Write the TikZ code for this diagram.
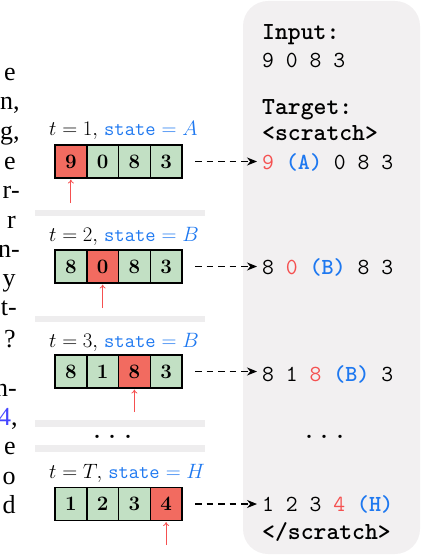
\documentclass[tikz,border=0pt]{standalone}
\usepackage{fontspec}
\newfontfamily\fragfont{Liberation Serif}
\usetikzlibrary{arrows.meta,calc}
\definecolor{cellred}{RGB}{242,107,96}
\definecolor{cellgreen}{RGB}{194,224,196}
\definecolor{txtred}{RGB}{245,80,80}
\definecolor{txtblue}{RGB}{30,120,240}
\definecolor{panelgray}{RGB}{242,240,241}
\definecolor{sepgray}{RGB}{238,237,238}
\definecolor{linkblue}{RGB}{70,70,255}
\begin{document}
\begin{tikzpicture}[x=1pt,y=-1pt,
 cell/.style={draw=black, line width=1.5pt, minimum width=31.75pt, minimum height=33pt, inner sep=0pt, outer sep=0pt, font=\fontsize{20.5}{22}\selectfont\bfseries},
 redcell/.style={cell, fill=cellred},
 greencell/.style={cell, fill=cellgreen},
 steplabel/.style={anchor=base west, inner sep=0pt, font=\fontsize{20}{22}\selectfont},
 outtext/.style={anchor=base west, inner sep=0pt, font=\fontsize{23}{25}\selectfont\ttfamily},
 headtext/.style={anchor=base west, inner sep=0pt, font=\fontsize{24.5}{26}\selectfont\ttfamily\bfseries},
 dotstext/.style={inner sep=0pt, font=\fontsize{40}{42}\selectfont},
 ptr/.style={draw=txtred, line width=0.8pt, -{To[length=4pt,width=6pt]}, shorten >=1.5pt},
 dasharrow/.style={draw=black, line width=1.1pt, dash pattern=on 6.5pt off 5pt, -{Stealth[length=10pt,width=8pt]}, shorten <=13pt, shorten >=5pt},
 frag/.style={anchor=base west, inner sep=0pt, font=\fontsize{26}{28}\selectfont\fragfont},
]
\useasboundingbox (0,0) rectangle (422,556);
\clip (0,0) rectangle (422,556);

% right panel
\fill[panelgray, rounded corners=25pt] (243,1) rectangle (420,554);

% separators
\fill[sepgray] (35,210) rectangle (205,216);
\fill[sepgray] (35,316) rectangle (205,322);
\fill[sepgray] (35,420) rectangle (205,427);
\fill[sepgray] (35,445) rectangle (205,452);

% left text fragments
\node[frag] (f1) at (15,81) {\llap{e}};
\node[frag] (f2) at (13,110) {\llap{n},};
\node[frag] (f3) at (13,140) {\llap{g},};
\node[frag] (f4) at (15,169) {\llap{e}};
\node[frag] (f5) at (11,198) {\llap{r}-};
\node[frag] (f6) at (15,228) {\llap{r}};
\node[frag] (f7) at (11,257) {\llap{n}-};
\node[frag] (f8) at (15,286) {\llap{y}};
\node[frag] (f9) at (8,315) {\llap{t}-};
\node[frag] (f10) at (15,347) {\llap{?}};
\node[frag] (f11) at (8,396) {\llap{n}-};
\node[frag] (f12) at (11,425) {\llap{\textcolor{linkblue}{4}},};
\node[frag] (f13) at (15,454) {\llap{e}};
\node[frag] (f14) at (15,484) {\llap{o}};
\node[frag] (f15) at (15,513) {\llap{d}};

% step labels
\node[steplabel] (lab1) at (49,136) {$t=1,$ \textcolor{txtblue}{\texttt{state} $=A$}};
\node[steplabel] (lab2) at (49,241) {$t=2,$ \textcolor{txtblue}{\texttt{state} $=B$}};
\node[steplabel] (lab3) at (49,347) {$t=3,$ \textcolor{txtblue}{\texttt{state} $=B$}};
\node[steplabel] (lab4) at (49,478) {$t=T,$ \textcolor{txtblue}{\texttt{state} $=H$}};

% row 1
\node[redcell]   (r1c1) at (70.875,161.5) {9};
\node[greencell] (r1c2) at (102.625,161.5) {0};
\node[greencell] (r1c3) at (134.375,161.5) {8};
\node[greencell] (r1c4) at (166.125,161.5) {3};
% row 2
\node[greencell] (r2c1) at (70.875,266.5) {8};
\node[redcell]   (r2c2) at (102.625,266.5) {0};
\node[greencell] (r2c3) at (134.375,266.5) {8};
\node[greencell] (r2c4) at (166.125,266.5) {3};
% row 3
\node[greencell] (r3c1) at (70.875,371.5) {8};
\node[greencell] (r3c2) at (102.625,371.5) {1};
\node[redcell]   (r3c3) at (134.375,371.5) {8};
\node[greencell] (r3c4) at (166.125,371.5) {3};
% row 4
\node[greencell] (r4c1) at (70.875,504) {1};
\node[greencell] (r4c2) at (102.625,504) {2};
\node[greencell] (r4c3) at (134.375,504) {3};
\node[redcell]   (r4c4) at (166.125,504) {4};

\node[dotstext] (dotsL) at (113,437) {.\kern5.5pt.\kern5.5pt.};

% pointers
\coordinate (q1) at (70.875,203);
\coordinate (q2) at (102.625,308);
\coordinate (q3) at (134.375,412);
\coordinate (q4) at (166.125,545);
\draw[ptr] (q1) -- (r1c1.south);
\draw[ptr] (q2) -- (r2c2.south);
\draw[ptr] (q3) -- (r3c3.south);
\draw[ptr] (q4) -- (r4c4.south);

% panel text
\node[headtext] (inlab) at (262,40) {Input:};
\node[outtext] (inval) at (262,68) {9 0 8 3};
\node[headtext] (tglab) at (262,115) {Target:};
\node[headtext] (scopen) at (262,141) {<scratch>};
\node[outtext] (out1) at (262,169) {\textcolor{txtred}{9} \textcolor{txtblue}{\bfseries(A)} 0 8 3};
\node[outtext] (out2) at (262,274) {8 \textcolor{txtred}{0} \textcolor{txtblue}{\bfseries(B)} 8 3};
\node[outtext] (out3) at (262,381) {8 1 \textcolor{txtred}{8} \textcolor{txtblue}{\bfseries(B)} 3};
\node[dotstext] (dotsR) at (325,437) {.\kern5.5pt.\kern5.5pt.};
\node[outtext] (out4) at (262,511) {1 2 3 \textcolor{txtred}{4} \textcolor{txtblue}{\bfseries(H)}};
\node[headtext] (scclose) at (262,539) {</scratch>};

% dashed connectors
\draw[dasharrow] (r1c4.east) -- (r1c4.east -| out1.west);
\draw[dasharrow] (r2c4.east) -- (r2c4.east -| out2.west);
\draw[dasharrow] (r3c4.east) -- (r3c4.east -| out3.west);
\draw[dasharrow] (r4c4.east) -- (r4c4.east -| out4.west);
\end{tikzpicture}
\end{document}
